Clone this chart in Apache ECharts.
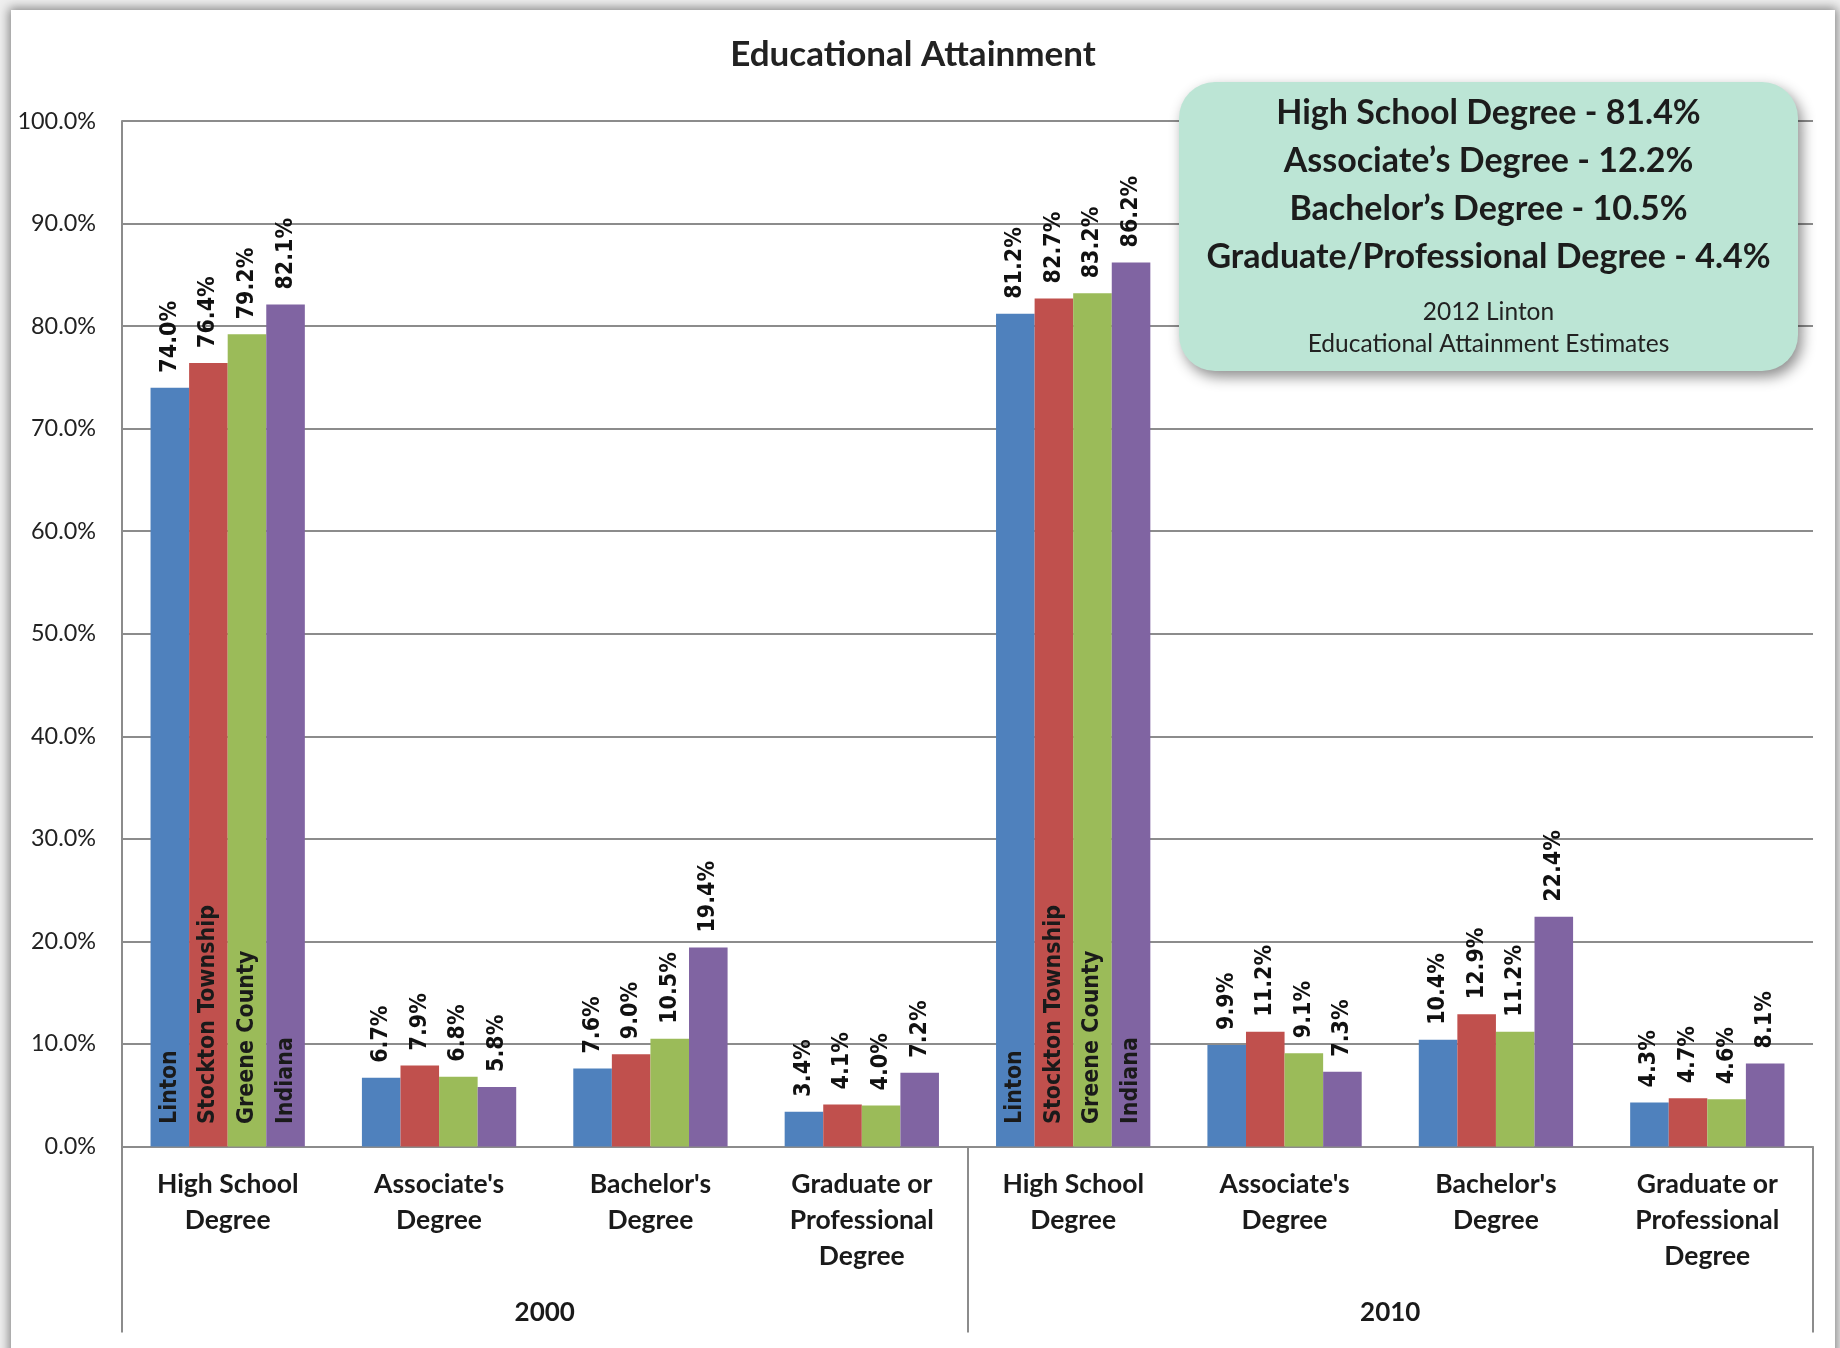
<!DOCTYPE html>
<html>
<head>
<meta charset="utf-8">
<title>Educational Attainment</title>
<script src="https://cdn.jsdelivr.net/npm/echarts@6/dist/echarts.min.js"></script>
<style>
  html, body { margin: 0; padding: 0; width: 1840px; height: 1348px; overflow: hidden; background: #efefef; }
  #card { position: absolute; left: 11px; top: 10px; width: 1824px; height: 1360px; background: #fff;
          box-shadow: 0 0 10px 2px rgba(0,0,0,0.45); }
  #chart { position: absolute; left: 0; top: 0; width: 1840px; height: 1348px; }
</style>
</head>
<body>
<div id="card"></div>
<div id="chart"></div>
<script>
// Degree categories for each census year
const categories = [
  'High School\nDegree', "Associate's\nDegree", "Bachelor's\nDegree", 'Graduate or\nProfessional\nDegree',
  'High School\nDegree', "Associate's\nDegree", "Bachelor's\nDegree", 'Graduate or\nProfessional\nDegree'
];
const years = ['2000', '2010'];
const seriesNames = ['Linton', 'Stockton Township', 'Greene County', 'Indiana'];

// Percent of population by degree (2000 block, then 2010 block)
const linton   = [74.0, 6.7, 7.6, 3.4, 81.2, 9.9, 10.4, 4.3];
const stockton = [76.4, 7.9, 9.0, 4.1, 82.7, 11.2, 12.9, 4.7];
const greene   = [79.2, 6.8, 10.5, 4.0, 83.2, 9.1, 11.2, 4.6];
const indiana  = [82.1, 5.8, 19.4, 7.2, 86.2, 7.3, 22.4, 8.1];

// Categories where the series names are written inside the bars
const nameLabelCategories = [0, 4];

// 2012 estimates shown in the callout
const estimateLines = [
  'High School Degree - 81.4%',
  'Associate\u2019s Degree - 12.2%',
  'Bachelor\u2019s Degree - 10.5%',
  'Graduate/Professional Degree - 4.4%'
];
const estimateCaption = ['2012 Linton', 'Educational Attainment Estimates'];

const colors = ['#4f81bd', '#c0504d', '#9bbb59', '#8064a2'];
const values = [linton, stockton, greene, indiana];

const UI_FONT = 'Lato, "Open Sans", sans-serif';
const LABEL_FONT = '"DejaVu Sans Condensed", "DejaVu Sans", sans-serif';
const GRID_COLOR = '#8c8c8c';

const chart = echarts.init(document.getElementById('chart'), null, { renderer: 'canvas' });

const series = seriesNames.map((name, i) => ({
  name: name,
  type: 'bar',
  data: values[i],
  barGap: '0%',
  barCategoryGap: '27%',
  itemStyle: { color: colors[i] },
  label: {
    show: true,
    position: 'top',
    distance: 15,
    rotate: 90,
    align: 'left',
    verticalAlign: 'middle',
    fontFamily: LABEL_FONT,
    fontWeight: 'bold',
    fontSize: 23,
    color: '#111',
    formatter: p => p.value.toFixed(1) + '%'
  },
  markPoint: {
    symbol: 'rect',
    symbolSize: 1,
    itemStyle: { color: 'rgba(0,0,0,0)' },
    silent: true,
    label: {
      show: true,
      position: 'top',
      distance: 22,
      rotate: 90,
      align: 'left',
      verticalAlign: 'middle',
      fontFamily: LABEL_FONT,
      fontWeight: 'bold',
      fontSize: 23,
      color: '#1a1a1a',
      formatter: () => name
    },
    data: nameLabelCategories.map(c => ({ coord: [c, 0] }))
  }
}));

const boxX = 1179, boxY = 82, boxW = 619, boxH = 289;
const boxCx = boxX + boxW / 2;

const boxTexts = estimateLines.map((t, i) => ({
  type: 'text',
  z: 101,
  x: boxCx,
  y: 113.5 + i * 48,
  style: {
    text: t,
    fill: '#1c1c1c',
    font: 'bold 34px ' + UI_FONT,
    textAlign: 'center',
    textVerticalAlign: 'middle'
  }
})).concat(estimateCaption.map((t, i) => ({
  type: 'text',
  z: 101,
  x: boxCx,
  y: 312 + i * 32,
  style: {
    text: t,
    fill: '#222',
    font: '24.5px ' + UI_FONT,
    textAlign: 'center',
    textVerticalAlign: 'middle'
  }
})));

chart.setOption({
  animation: false,
  backgroundColor: 'transparent',
  grid: { left: 122, right: 27, top: 121, height: 1025.5, containLabel: false },
  xAxis: [
    {
      type: 'category',
      data: categories,
      axisLine: { show: true, lineStyle: { color: GRID_COLOR, width: 2 } },
      axisTick: { show: false },
      axisLabel: {
        interval: 0,
        margin: 20,
        fontFamily: UI_FONT,
        fontWeight: 'bold',
        fontSize: 26.5,
        lineHeight: 36,
        color: '#1a1a1a'
      }
    },
    {
      type: 'category',
      data: years,
      position: 'bottom',
      axisLine: { show: false },
      axisTick: { show: true, length: 186, lineStyle: { color: GRID_COLOR, width: 2 } },
      axisLabel: {
        interval: 0,
        margin: 153,
        fontFamily: UI_FONT,
        fontWeight: 'bold',
        fontSize: 26,
        color: '#1a1a1a'
      },
      splitLine: { show: false }
    }
  ],
  yAxis: {
    type: 'value',
    min: 0,
    max: 100,
    interval: 10,
    axisLine: { show: true, lineStyle: { color: GRID_COLOR, width: 2 } },
    axisTick: { show: false },
    splitLine: { show: true, lineStyle: { color: GRID_COLOR, width: 2 } },
    axisLabel: {
      margin: 26,
      fontFamily: UI_FONT,
      fontSize: 23.4,
      color: '#222',
      formatter: v => v.toFixed(1) + '%'
    }
  },
  series: series,
  graphic: {
    elements: [
      {
        type: 'text',
        x: 913,
        y: 55,
        style: {
          text: 'Educational Attainment',
          fill: '#222',
          font: 'bold 35px ' + UI_FONT,
          textAlign: 'center',
          textVerticalAlign: 'middle'
        }
      },
      {
        type: 'rect',
        z: 100,
        shape: { x: boxX, y: boxY, width: boxW, height: boxH, r: 36 },
        style: {
          fill: '#bce5d5',
          shadowBlur: 14,
          shadowOffsetX: 4,
          shadowOffsetY: 6,
          shadowColor: 'rgba(0,0,0,0.45)'
        }
      }
    ].concat(boxTexts)
  }
});
</script>
</body>
</html>
